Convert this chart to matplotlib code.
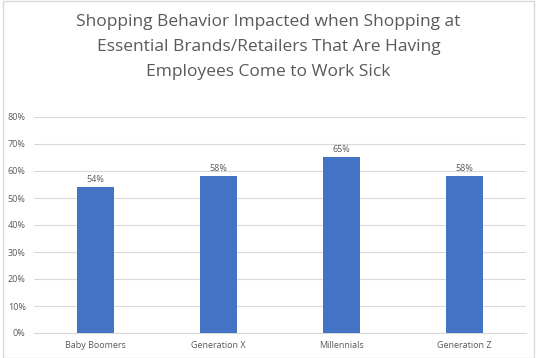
import matplotlib
matplotlib.use("Agg")
import matplotlib.pyplot as plt
from matplotlib.patches import Rectangle

categories = ["Baby Boomers", "Generation X", "Millennials", "Generation Z"]
values = [54, 58, 65, 58]
yticks = [0, 10, 20, 30, 40, 50, 60, 70, 80]
title = "Shopping Behavior Impacted when Shopping at\nEssential Brands/Retailers That Are Having\nEmployees Come to Work Sick"

plt.rcParams['font.family'] = ['Open Sans', 'DejaVu Sans']

fig = plt.figure(figsize=(5.37, 3.58), dpi=100)
fig.patches.append(Rectangle((0.005, 0.0), 0.99, 0.997, transform=fig.transFigure,
                             fill=False, edgecolor="#d9d9d9", linewidth=1))

W, H = 537, 358
left, right, bottom, top = 34, 526, 333, 117
ax = fig.add_axes([left / W, 1 - bottom / H, (right - left) / W, (bottom - top) / H])

x = range(len(categories))
bars = ax.bar(x, values, width=0.3, color="#4472C4", zorder=3)
for xi, v in zip(x, values):
    ax.text(xi, v + 1.2, f"{v}%", ha="center", va="bottom", fontsize=6.5, color="#595959")

ax.set_xlim(-0.5, len(categories) - 0.5)
ax.set_ylim(0, 80)
ax.set_yticks(yticks)
ax.set_yticklabels([f"{t}%" for t in yticks], fontsize=6.5, color="#595959")
ax.set_xticks(list(x))
ax.set_xticklabels(categories, fontsize=6.5, color="#595959")
ax.tick_params(length=0, pad=6)
ax.grid(axis="y", color="#d9d9d9", linewidth=0.8, zorder=0)
for s in ["top", "right", "left"]:
    ax.spines[s].set_visible(False)
ax.spines["bottom"].set_color("#d9d9d9")

fig.text(0.5, 1 - 14 / H, title, ha="center", va="top", fontsize=12.5, color="#595959",
         linespacing=1.75)

fig.savefig("out.png", dpi=100)
